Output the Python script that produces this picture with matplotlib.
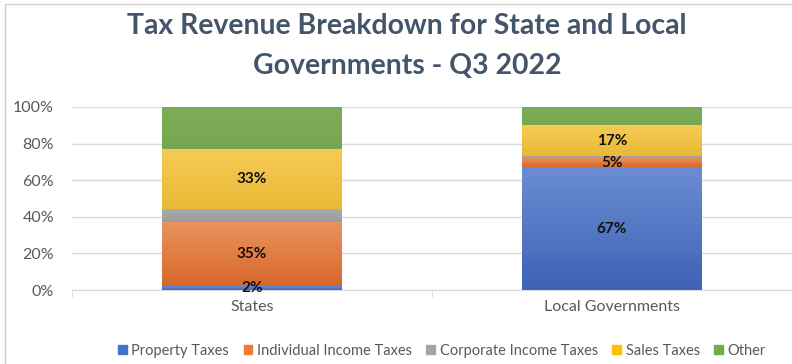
import matplotlib
matplotlib.use("Agg")
import matplotlib.pyplot as plt
import numpy as np
from matplotlib.colors import to_rgb, LinearSegmentedColormap
from matplotlib.patches import Rectangle

categories = ["States", "Local Governments"]
series = ["Property Taxes", "Individual Income Taxes", "Corporate Income Taxes", "Sales Taxes", "Other"]
property_taxes = [2, 67]
individual_income = [35, 5]
corporate_income = [7, 1]
sales_taxes = [33, 17]
other = [23, 10]
values = [property_taxes, individual_income, corporate_income, sales_taxes, other]
yticks = [0, 20, 40, 60, 80, 100]
ytick_labels = ["0%", "20%", "40%", "60%", "80%", "100%"]
label_series = {0: [True, True], 1: [True, True], 3: [True, True]}

top_colors = ["#6C8DD3", "#EA9460", "#ABABAB", "#F6CB55", "#7EAC58"]
bot_colors = ["#3E62B6", "#D8672A", "#9C9C9C", "#E9B936", "#77A650"]
legend_colors = ["#4472C4", "#ED7D31", "#A5A5A5", "#FFC000", "#70AD47"]

plt.rcParams['font.family'] = ['Lato', 'DejaVu Sans']

fig = plt.figure(figsize=(7.92, 3.64), dpi=100)
fig.patches.append(Rectangle((0.006, -0.01), 1.1, 1.0, transform=fig.transFigure,
                             fill=False, edgecolor="#D0D0D0", linewidth=1.0))
ax = fig.add_axes([72/792, 1-290/364, 720/792, (290-107)/364])

x = np.arange(len(categories))
bottom = np.zeros(len(categories))
width = 0.5
for i, s in enumerate(series):
    vals = np.array(values[i], dtype=float)
    bars = ax.bar(x, vals, width, bottom=bottom, color=legend_colors[i], label=s,
                  linewidth=0, zorder=2)
    cmap = LinearSegmentedColormap.from_list("g%d" % i, [to_rgb(bot_colors[i]), to_rgb(top_colors[i])])
    for b in bars:
        x0, y0 = b.get_x(), b.get_y()
        w, h = b.get_width(), b.get_height()
        if h <= 0:
            continue
        grad = np.linspace(0, 1, 100).reshape(-1, 1)
        im = ax.imshow(grad, cmap=cmap, aspect="auto", origin="lower",
                       extent=[x0, x0 + w, y0, y0 + h], zorder=2.5)
        im.set_clip_path(b)
    if i in label_series:
        for j, v in enumerate(vals):
            if label_series[i][j]:
                ax.text(x[j], bottom[j] + v / 2, "%d%%" % v, ha="center", va="center",
                        fontsize=11, fontweight="bold", color="#111111", zorder=4)
    bottom += vals

ax.set_xlim(-0.5, 1.5)
ax.set_ylim(0, 100)
ax.set_yticks(yticks)
ax.set_yticklabels(ytick_labels, fontsize=11.5, color="#595959")
ax.set_xticks(x)
ax.set_xticklabels(categories, fontsize=11.5, color="#595959")
ax.tick_params(axis="y", length=0, pad=13)
ax.tick_params(axis="x", length=0, pad=7)
ax.set_xticks([-0.5, 0.5, 1.5], minor=True)
ax.tick_params(axis="x", which="minor", length=5, color="#D9D9D9")
ax.grid(axis="y", color="#D9D9D9", linewidth=1, zorder=0)
ax.set_axisbelow(True)
for sp in ["top", "right", "left"]:
    ax.spines[sp].set_visible(False)
ax.spines["bottom"].set_color("#D9D9D9")

fig.text(407/792, 1 - 26/364, "Tax Revenue Breakdown for State and Local", ha="center", va="center",
         fontsize=20.4, fontweight="bold", color="#44546A")
fig.text(407/792, 1 - 66/364, "Governments - Q3 2022", ha="center", va="center",
         fontsize=20.4, fontweight="bold", color="#44546A")

handles = [Rectangle((0, 0), 1, 1, color=c) for c in legend_colors]
fig.legend(handles, series, loc="center", bbox_to_anchor=(0.558, 1 - 351/364), ncol=5,
           frameon=False, fontsize=10.5, handlelength=0.6, handleheight=0.6,
           handletextpad=0.3, columnspacing=1.0, labelcolor="#595959")

fig.savefig("out.png", dpi=100)
